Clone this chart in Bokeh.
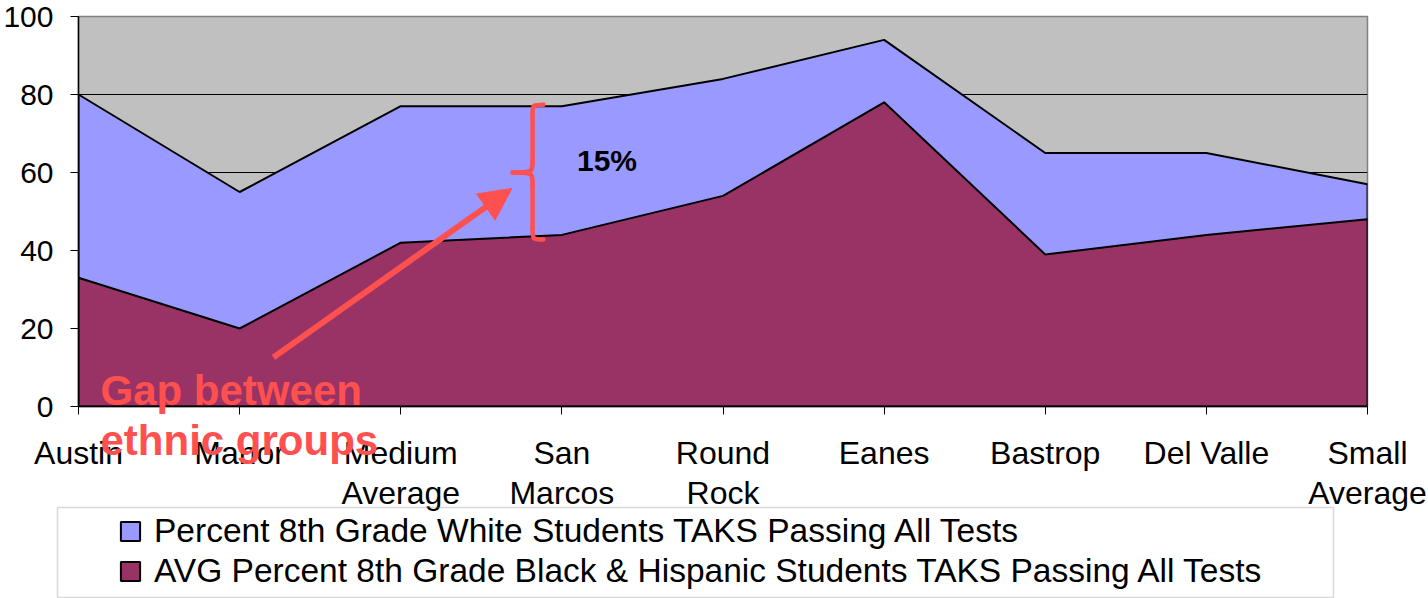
from bokeh.plotting import figure
from bokeh.models import (Range1d, FixedTicker, Legend, LegendItem, Label, Arrow,
                          NormalHead, BoxAnnotation, GridBox)
from bokeh.embed import file_html
from bokeh.resources import INLINE

# ---- data ----
districts = ["Austin", "Manor", "Medium\nAverage", "San\nMarcos", "Round\nRock",
             "Eanes", "Bastrop", "Del Valle", "Small\nAverage"]
white_pct = [80, 55, 77, 77, 84, 94, 65, 65, 57]
black_hisp_pct = [33, 20, 42, 44, 54, 78, 39, 44, 48]
y_ticks = [0, 20, 40, 60, 80, 100]
grid_ticks = [20, 40, 60, 80]
series_names = ["Percent 8th Grade White Students TAKS Passing All Tests",
                "AVG Percent 8th Grade Black & Hispanic Students TAKS Passing All Tests"]
gap_text = "15%"
callout_text = "Gap between\nethnic groups"

# ---- styles ----
GREY = "#C0C0C0"
BLUE = "#9999FF"
MAROON = "#993366"
RED = "#FF5050"
FONT = "Liberation Sans"
W, H = 1428, 598

xs = list(range(len(districts)))
zeros = [0] * len(xs)
poly_x = xs + xs[::-1]

# ---------------- main chart ----------------
p = figure(width=W, height=H,
           x_range=Range1d(0, len(districts) - 1), y_range=Range1d(0, 100),
           output_backend="svg", toolbar_location=None,
           min_border_left=78, min_border_right=61, min_border_top=16, min_border_bottom=192)
p.background_fill_color = GREY
p.border_fill_color = "white"
p.outline_line_color = "#808080"
p.outline_line_width = 1.5

p.xgrid.grid_line_color = None
p.ygrid.grid_line_color = "black"
p.ygrid.grid_line_width = 1
p.ygrid.ticker = FixedTicker(ticks=grid_ticks)

p.patch(poly_x, white_pct + zeros, fill_color=BLUE, line_color="black", line_width=2)
p.patch(poly_x, black_hisp_pct + zeros, fill_color=MAROON, line_color="black", line_width=2)

p.yaxis.ticker = FixedTicker(ticks=y_ticks)
p.yaxis.major_label_text_font = FONT
p.yaxis.major_label_text_font_size = "30px"
p.yaxis.major_label_text_color = "black"
p.yaxis.major_label_standoff = 17
p.yaxis.major_tick_out = 8
p.yaxis.major_tick_in = 0
p.yaxis.minor_tick_line_color = None
p.yaxis.axis_line_color = "black"
p.yaxis.axis_line_width = 1.5
p.yaxis.major_tick_line_color = "black"

p.xaxis.ticker = FixedTicker(ticks=xs)
p.xaxis.major_label_overrides = {i: d for i, d in zip(xs, districts)}
p.xaxis.major_label_text_font = FONT
p.xaxis.major_label_text_font_size = "32px"
p.xaxis.major_label_text_color = "black"
p.xaxis.major_label_text_line_height = 1.13
p.xaxis.major_label_standoff = 20
p.xaxis.major_tick_out = 8
p.xaxis.major_tick_in = 0
p.xaxis.minor_tick_line_color = None
p.xaxis.axis_line_color = "black"
p.xaxis.axis_line_width = 1.5
p.xaxis.major_tick_line_color = "black"

# brace
bx_tip, bx_mid, bx_end = 2.694, 2.818, 2.886
p.bezier(x0=[bx_end, bx_mid, bx_tip, bx_mid], y0=[77.4, 63.1, 60.0, 45.6],
         x1=[bx_mid, bx_tip, bx_mid, bx_end], y1=[74.9, 60.0, 56.9, 42.8],
         cx0=[bx_mid] * 4, cy0=[77.4, 60.0, 60.0, 42.8],
         cx1=[bx_mid] * 4, cy1=[77.4, 60.0, 60.0, 42.8],
         line_color=RED, line_width=4.5, line_cap="round")
p.segment(x0=[bx_mid, bx_mid], y0=[74.9, 56.9], x1=[bx_mid, bx_mid], y1=[63.1, 45.6],
          line_color=RED, line_width=4.5, line_cap="round")

p.add_layout(Arrow(x_start=1.21, y_start=12.6, x_end=2.69, y_end=55.9,
                   line_color=RED, line_width=6,
                   end=NormalHead(size=32, fill_color=RED, line_color=RED)))
p.add_layout(Label(x=3.28, y=63.1, text=gap_text, text_align="center",
                   text_baseline="middle", text_font=FONT, text_font_size="30px",
                   text_font_style="bold", text_color="black"))

# ---------------- transparent overlay (callout + legend) ----------------
# its frame covers the whole canvas, so nothing here is clipped;
# ranges are in page pixels (y grows downward)
q = figure(width=W, height=H, x_range=Range1d(0, W), y_range=Range1d(H, 0),
           output_backend="svg", toolbar_location=None,
           x_axis_type=None, y_axis_type=None, min_border=0)
q.outline_line_color = None
q.border_fill_color = None
q.background_fill_color = None
q.xgrid.grid_line_color = None
q.ygrid.grid_line_color = None
for fig in (p, q):
    if "frame_align" in fig.properties():
        fig.frame_align = False

lines = callout_text.split("\n")
for txt, base in zip(lines, [390, 440]):
    q.add_layout(Label(x=100, y=base, text=txt, text_align="left",
                       text_baseline="alphabetic", text_font=FONT,
                       text_font_size="42px", text_font_style="bold", text_color=RED))

lw = q.patch(poly_x, white_pct + zeros, fill_color=BLUE, line_color="black",
             line_width=2, visible=False)
lb = q.patch(poly_x, black_hisp_pct + zeros, fill_color=MAROON, line_color="black",
             line_width=2, visible=False)
legend = Legend(items=[LegendItem(label=series_names[0], renderers=[lw]),
                       LegendItem(label=series_names[1], renderers=[lb])],
                location=(118, 8), orientation="vertical",
                label_text_font=FONT, label_text_font_size="33.5px",
                label_text_color="black",
                glyph_width=24, glyph_height=24, label_height=24,
                label_standoff=12, spacing=2, padding=0, margin=0,
                border_line_alpha=0, background_fill_alpha=0,
                inactive_fill_alpha=0)
q.add_layout(legend)
q.add_layout(BoxAnnotation(left=57, right=1333, top=507, bottom=597,
                           fill_alpha=0, line_color="#808080", line_width=1.5))

layout = GridBox(children=[(p, 0, 0), (q, 0, 0)])
open("out.html", "w").write(file_html(layout, INLINE))
